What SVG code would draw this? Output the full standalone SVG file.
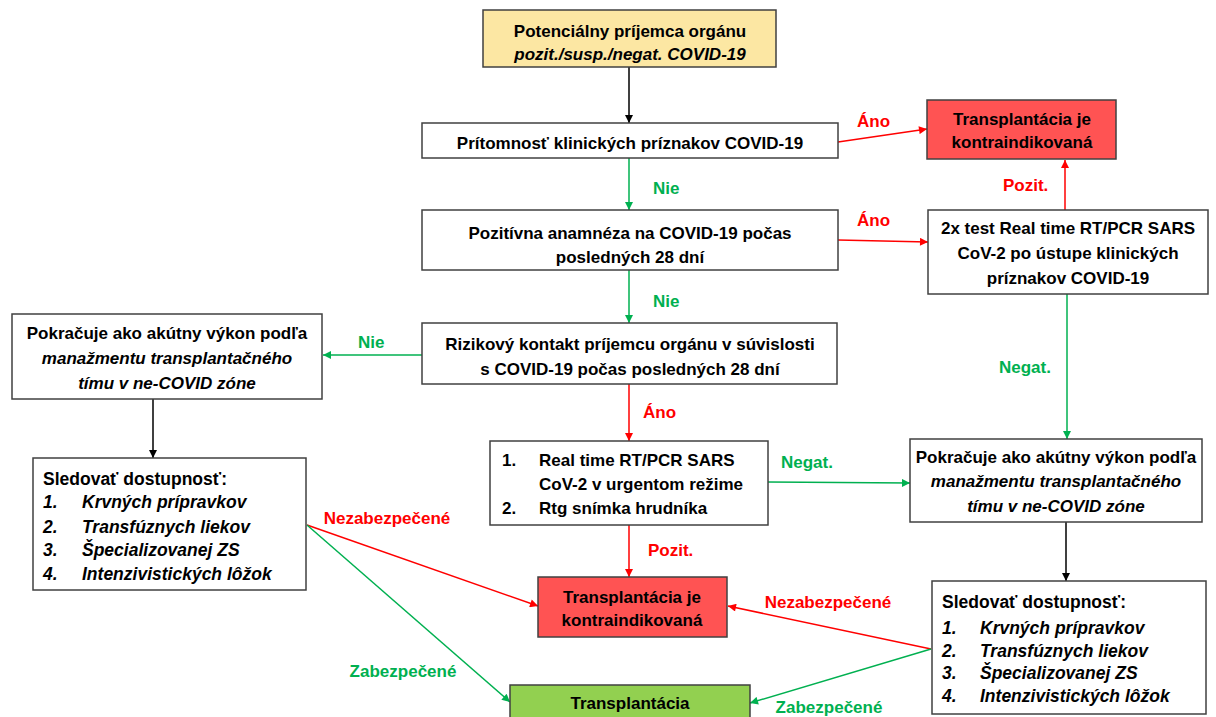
<svg xmlns="http://www.w3.org/2000/svg" width="1216" height="717" viewBox="0 0 1216 717">
<defs>
<style>
text{font-family:"Liberation Sans",Arial,sans-serif;font-size:17px;fill:#000}
.b{font-weight:bold}
.c{text-anchor:middle}
.i{font-style:italic}
.lst{font-size:17.5px;font-weight:bold}
.box{fill:#fff;stroke:#404040;stroke-width:1.5}
.yel{fill:#fce7a3;stroke:#404040;stroke-width:1.5}
.red{fill:#ff5353;stroke:#404040;stroke-width:1.5}
.grn{fill:#92d050;stroke:#404040;stroke-width:1.5}
.lr{fill:#ff0000;font-weight:bold}
.lg{fill:#00b050;font-weight:bold}
.ck{stroke:#000;stroke-width:1.5;fill:none;marker-end:url(#ak)}
.cr{stroke:#ff0000;stroke-width:1.5;fill:none;marker-end:url(#ar)}
.cg{stroke:#00b050;stroke-width:1.5;fill:none;marker-end:url(#ag)}
</style>
<marker id="ak" viewBox="0 0 10 10" refX="10" refY="5" markerWidth="9" markerHeight="8" markerUnits="userSpaceOnUse" orient="auto"><path d="M0,0L10,5L0,10z" fill="#000"/></marker>
<marker id="ar" viewBox="0 0 10 10" refX="10" refY="5" markerWidth="9" markerHeight="8" markerUnits="userSpaceOnUse" orient="auto"><path d="M0,0L10,5L0,10z" fill="#ff0000"/></marker>
<marker id="ag" viewBox="0 0 10 10" refX="10" refY="5" markerWidth="9" markerHeight="8" markerUnits="userSpaceOnUse" orient="auto"><path d="M0,0L10,5L0,10z" fill="#00b050"/></marker>
</defs>
<rect width="1216" height="717" fill="#fff"/>

<g id="connectors">
<path class="ck" d="M629,67V123"/>
<path class="cr" d="M838,142L927,129"/>
<path class="cg" d="M629,158V210"/>
<path class="cr" d="M838,240L928,242"/>
<path class="cr" d="M1065,210V160"/>
<path class="cg" d="M1067,294V439"/>
<path class="cg" d="M629,270V323"/>
<path class="cg" d="M422,355H323"/>
<path class="ck" d="M153,399V458"/>
<path class="cr" d="M629,384V441"/>
<path class="cg" d="M768,482L910,483"/>
<path class="cr" d="M629,525V577"/>
<path class="ck" d="M1066,522V581"/>
<path class="cr" d="M307,525L538,606"/>
<path class="cg" d="M307,525L510,702"/>
<path class="cr" d="M931,649L728,606"/>
<path class="cg" d="M931,649L750,703"/>
<text class="lr" x="857" y="127">Áno</text>
<text class="lg" x="653" y="194">Nie</text>
<text class="lr" x="857" y="226">Áno</text>
<text class="lr" x="1003" y="191">Pozit.</text>
<text class="lg" x="999" y="373">Negat.</text>
<text class="lg" x="653" y="307">Nie</text>
<text class="lg" x="358" y="348">Nie</text>
<text class="lr" x="643" y="418">Áno</text>
<text class="lg" x="781" y="468">Negat.</text>
<text class="lr" x="648" y="556">Pozit.</text>
<text class="lr c" x="387" y="524">Nezabezpečené</text>
<text class="lg c" x="403" y="677">Zabezpečené</text>
<text class="lr c" x="828" y="608">Nezabezpečené</text>
<text class="lg c" x="829" y="713">Zabezpečené</text>
</g>

<g id="n-start">
<rect class="yel" x="483" y="10" width="293" height="57"/>
<text class="b c" x="630" y="37">Potenciálny príjemca orgánu</text>
<text class="b c i" x="630" y="60">pozit./susp./negat. COVID-19</text>
</g>

<g id="n-symptoms">
<rect class="box" x="422" y="123" width="416" height="35"/>
<text class="b c" x="630" y="149">Prítomnosť klinických príznakov COVID-19</text>
</g>

<g id="n-contra-top">
<rect class="red" x="927" y="100" width="189" height="59"/>
<text class="b c" x="1022" y="125">Transplantácia je</text>
<text class="b c" x="1022" y="148">kontraindikovaná</text>
</g>

<g id="n-history">
<rect class="box" x="422" y="210" width="416" height="60"/>
<text class="b c" x="630" y="239">Pozitívna anamnéza na COVID-19 počas</text>
<text class="b c" x="630" y="263">posledných 28 dní</text>
</g>

<g id="n-test2x">
<rect class="box" x="928" y="210" width="280" height="84"/>
<text class="b c" x="1068" y="234">2x test Real time RT/PCR SARS</text>
<text class="b c" x="1068" y="259">CoV-2 po ústupe klinických</text>
<text class="b c" x="1068" y="284">príznakov COVID-19</text>
</g>

<g id="n-contact">
<rect class="box" x="422" y="323" width="415" height="61"/>
<text class="b c" x="630" y="350">Rizikový kontakt príjemcu orgánu v súvislosti</text>
<text class="b c" x="630" y="375">s COVID-19 počas posledných 28 dní</text>
</g>

<g id="n-continue-left">
<rect class="box" x="12" y="314" width="310" height="85"/>
<text class="b c" x="167" y="339">Pokračuje ako akútny výkon podľa</text>
<text class="b c i" x="167" y="364">manažmentu transplantačného</text>
<text class="b c i" x="167" y="389">tímu v ne-COVID zóne</text>
</g>

<g id="n-monitor-left">
<rect class="box" x="33" y="458" width="273" height="132"/>
<text class="lst" x="43" y="485">Sledovať dostupnosť:</text>
<text class="lst i" x="43" y="508">1.</text><text class="lst i" x="82" y="508">Krvných prípravkov</text>
<text class="lst i" x="43" y="533">2.</text><text class="lst i" x="82" y="533">Transfúznych liekov</text>
<text class="lst i" x="43" y="556">3.</text><text class="lst i" x="82" y="556">Špecializovanej ZS</text>
<text class="lst i" x="43" y="580">4.</text><text class="lst i" x="82" y="580">Intenzivistických lôžok</text>
</g>

<g id="n-urgent-test">
<rect class="box" x="490" y="441" width="278" height="84"/>
<text class="b" x="502" y="466">1.</text><text class="b" x="539" y="466">Real time RT/PCR SARS</text>
<text class="b" x="539" y="490">CoV-2 v urgentom režime</text>
<text class="b" x="502" y="514">2.</text><text class="b" x="539" y="514">Rtg snímka hrudníka</text>
</g>

<g id="n-continue-right">
<rect class="box" x="910" y="439" width="292" height="83"/>
<text class="b c" x="1056" y="463">Pokračuje ako akútny výkon podľa</text>
<text class="b c i" x="1056" y="487">manažmentu transplantačného</text>
<text class="b c i" x="1056" y="512">tímu v ne-COVID zóne</text>
</g>

<g id="n-contra-mid">
<rect class="red" x="538" y="577" width="189" height="60"/>
<text class="b c" x="632" y="603">Transplantácia je</text>
<text class="b c" x="632" y="626">kontraindikovaná</text>
</g>

<g id="n-transplant">
<rect class="grn" x="510" y="685" width="240" height="45"/>
<text class="b c" x="630" y="709">Transplantácia</text>
</g>

<g id="n-monitor-right">
<rect class="box" x="932" y="581" width="274" height="133"/>
<text class="lst" x="942" y="608">Sledovať dostupnosť:</text>
<text class="lst i" x="942" y="634">1.</text><text class="lst i" x="980" y="634">Krvných prípravkov</text>
<text class="lst i" x="942" y="657">2.</text><text class="lst i" x="980" y="657">Transfúznych liekov</text>
<text class="lst i" x="942" y="679">3.</text><text class="lst i" x="980" y="679">Špecializovanej ZS</text>
<text class="lst i" x="942" y="702">4.</text><text class="lst i" x="980" y="702">Intenzivistických lôžok</text>
</g>
</svg>
